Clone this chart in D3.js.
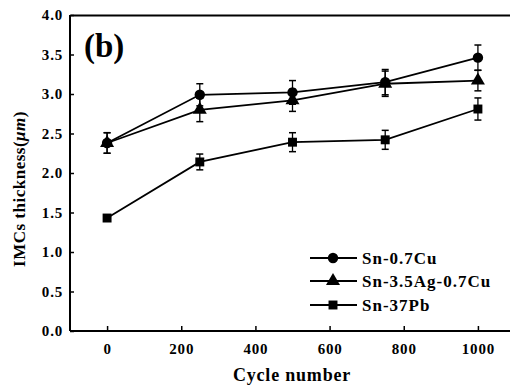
<!DOCTYPE html>
<html><head><meta charset="utf-8">
<script src="https://cdn.jsdelivr.net/npm/d3@7/dist/d3.min.js"></script>
<style>
body{margin:0;background:#fff;}
text{font-family:"Liberation Serif","Times New Roman",serif;font-weight:bold;fill:#000;}
</style></head><body>
<svg id="chart" width="510" height="385"></svg>
<script>
const cycles = [0, 250, 500, 750, 1000];
const snCu = [2.38, 2.99, 3.02, 3.15, 3.46];
const snCuErr = [0.13, 0.14, 0.15, 0.16, 0.16];
const snAgCu = [2.38, 2.80, 2.92, 3.13, 3.17];
const snAgCuErr = [0.13, 0.15, 0.14, 0.16, 0.13];
const snPb = [1.43, 2.14, 2.39, 2.42, 2.81];
const snPbErr = [0.04, 0.10, 0.12, 0.12, 0.14];
const seriesNames = ["Sn-0.7Cu", "Sn-3.5Ag-0.7Cu", "Sn-37Pb"];
const xTicks = [0, 200, 400, 600, 800, 1000];
const yTicks = [0.0, 0.5, 1.0, 1.5, 2.0, 2.5, 3.0, 3.5, 4.0];

const series = [
  {name: seriesNames[0], vals: snCu, err: snCuErr, sym: d3.symbolCircle, size: 85},
  {name: seriesNames[1], vals: snAgCu, err: snAgCuErr, sym: d3.symbolTriangle, size: 85},
  {name: seriesNames[2], vals: snPb, err: snPbErr, sym: d3.symbolSquare, size: 80}
];

const svg = d3.select("#chart");
const mLeft = 70, mRight = 515, mTop = 15, mBottom = 331;
const x = d3.scaleLinear().domain([-100, 1100]).range([mLeft, mRight]);
const y = d3.scaleLinear().domain([0, 4]).range([mBottom, mTop]);

// axes
const xAxis = svg.append("g").attr("transform", `translate(0,${mBottom})`)
  .call(d3.axisBottom(x).tickValues(xTicks).tickSize(-5).tickPadding(12).tickFormat(d3.format("d")));
const yAxis = svg.append("g").attr("transform", `translate(${mLeft},0)`)
  .call(d3.axisLeft(y).tickValues(yTicks).tickSize(-4).tickPadding(7).tickFormat(d3.format(".1f")));
svg.append("g").attr("transform", `translate(0,${mTop})`)
  .call(d3.axisTop(x).tickValues([]).tickSizeOuter(0));
[xAxis, yAxis].forEach(g => {
  g.selectAll(".tick line").attr("stroke-width", 1.5).attr("stroke", "#000");
  g.selectAll(".tick text").attr("font-size", 15).attr("font-family", "Liberation Serif").attr("font-weight", "bold").attr("letter-spacing", 0.8);
});
svg.selectAll(".domain").attr("stroke-width", 2).attr("stroke", "#000");
xAxis.select(".domain").attr("d", `M${mLeft},0H${mRight}`);
yAxis.select(".domain").attr("d", `M0,${mTop}V${mBottom}`);

// lines
const line = d3.line().x((d, i) => x(cycles[i])).y(d => y(d));
series.forEach(s => {
  svg.append("path").datum(s.vals).attr("d", line)
    .attr("fill", "none").attr("stroke", "#000").attr("stroke-width", 1.8);
});
// error bars and markers
series.forEach(s => {
  const g = svg.append("g");
  s.vals.forEach((v, i) => {
    const cx = x(cycles[i]);
    const y1 = y(v + s.err[i]), y2 = y(v - s.err[i]);
    g.append("line").attr("x1", cx).attr("x2", cx).attr("y1", y1).attr("y2", y2).attr("stroke", "#000").attr("stroke-width", 1.3);
    [y1, y2].forEach(yy => g.append("line").attr("x1", cx - 3.5).attr("x2", cx + 3.5).attr("y1", yy).attr("y2", yy).attr("stroke", "#000").attr("stroke-width", 1.5));
    g.append("path").attr("d", d3.symbol().type(s.sym).size(s.size)())
      .attr("transform", `translate(${cx},${y(v)})`).attr("fill", "#000");
  });
});

// legend
const legY = [258, 281, 305];
series.forEach((s, i) => {
  const g = svg.append("g").attr("transform", `translate(0,${legY[i]})`);
  g.append("line").attr("x1", 310).attr("x2", 357).attr("y1", 0).attr("y2", 0).attr("stroke", "#000").attr("stroke-width", 1.8);
  g.append("path").attr("d", d3.symbol().type(s.sym).size(s.size)()).attr("transform", "translate(333,0)").attr("fill", "#000");
  g.append("text").attr("x", 362).attr("y", 6).attr("font-size", 17).attr("letter-spacing", 1).text(s.name);
});

// panel label
svg.append("text").attr("x", 84).attr("y", 57).attr("font-size", 33).text("(b)");

// axis titles
svg.append("text").attr("x", 292).attr("y", 381).attr("text-anchor", "middle").attr("font-size", 18).attr("letter-spacing", 0.8).text("Cycle number");
const yt = svg.append("text").attr("transform", "translate(25,189) rotate(-90)").attr("text-anchor", "middle").attr("font-size", 17).attr("letter-spacing", 0.5);
yt.append("tspan").text("IMCs thickness(");
yt.append("tspan").attr("font-style", "italic").text("μm");
yt.append("tspan").text(")");
</script>
</body></html>
